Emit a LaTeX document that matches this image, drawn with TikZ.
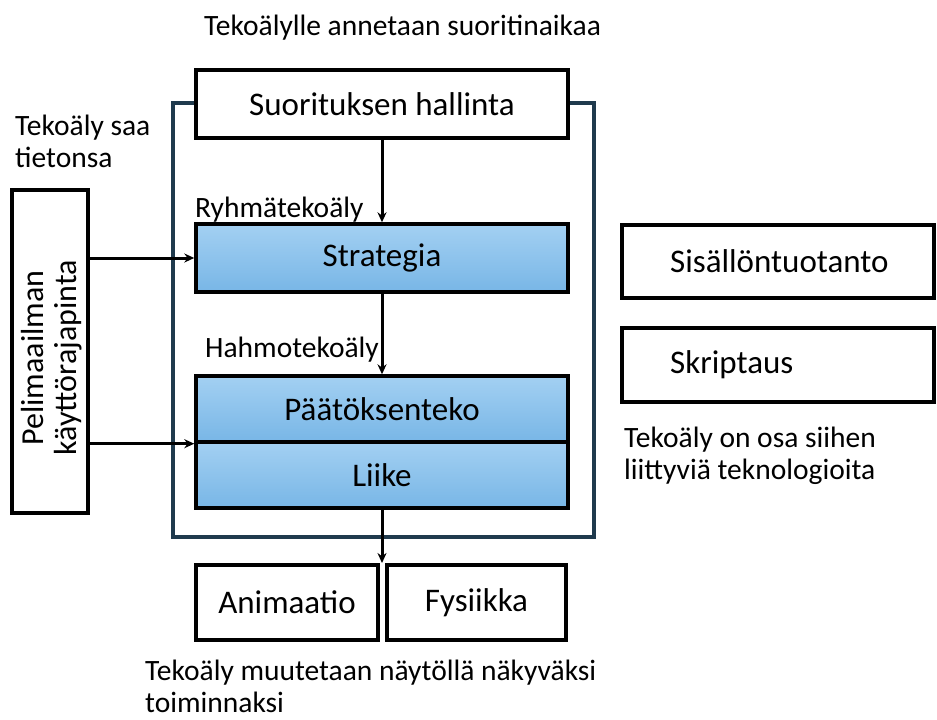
\documentclass[tikz,border=0pt]{standalone}
\usepackage{fontspec}
\setmainfont{Carlito}
\usetikzlibrary{arrows.meta}
\definecolor{frame}{HTML}{1F3A4D}
\definecolor{bluetop}{HTML}{A3D0F2}
\definecolor{bluebot}{HTML}{78B6E6}
\begin{document}
\begin{tikzpicture}[x=1pt,y=-1pt,
  box/.style={draw=black,line width=3.4pt,fill=white,rectangle,inner sep=0pt,font=\fontsize{33}{34}\selectfont},
  bluebox/.style={box,top color=bluetop,bottom color=bluebot},
  lbl/.style={inner sep=0pt,font=\fontsize{29.5}{32}\selectfont,anchor=west},
  arr/.style={line width=3pt,-{Stealth[length=10pt,width=9pt]}},
]
\useasboundingbox (0,0) rectangle (937,720);
% frame
\node[inner sep=0pt,minimum width=421pt,minimum height=434pt,draw=frame,line width=3.2pt] (frm) at (383.5,320) {};
% boxes
\node[box,minimum width=372pt,minimum height=68pt] (sh) at (382,104) {Suorituksen hallinta};
\node[bluebox,minimum width=372pt,minimum height=68pt] (st) at (382,258) {Strategia};
\node[bluebox,minimum width=372pt,minimum height=66pt] (pa) at (382,409) {Päätöksenteko};
\node[bluebox,minimum width=372pt,minimum height=66pt] (li) at (382,475) {Liike};
\node[box,minimum width=182pt,minimum height=75pt] (an) at (287,602.5) {Animaatio};
\node[box,minimum width=179pt,minimum height=75pt] (fy) at (476.5,602.5) {Fysiikka};
\node[box,minimum width=76pt,minimum height=323pt] (pe) at (50,351.5) {};
\node[inner sep=0pt,rotate=90,align=center,font=\fontsize{32}{33}\selectfont] (pet) at (52,358) {Pelimaailman\\käyttörajapinta};
\node[box,minimum width=312pt,minimum height=73pt] (si) at (778,261.5) {};
\node[lbl,font=\fontsize{33}{34}\selectfont] (sit) at (670,261.5) {Sisällöntuotanto};
\node[box,minimum width=312pt,minimum height=74pt] (sk) at (778,365) {};
\node[lbl,font=\fontsize{33}{34}\selectfont] (skt) at (670,365) {Skriptaus};
% labels
\node[lbl] (ry) at (195,210) {Ryhmätekoäly};
\node[lbl] (ha) at (205,350) {Hahmotekoäly};
\node[lbl] (top) at (204,28) {Tekoälylle annetaan suoritinaikaa};
\node[lbl,align=left] (tss) at (15,141.5) {Tekoäly saa\\tietonsa};
\node[lbl,align=left] (toa) at (624,455.5) {Tekoäly on osa siihen\\liittyviä teknologioita};
\node[lbl,align=left] (bot) at (145,686) {Tekoäly muutetaan näytöllä näkyväksi\\toiminnaksi};
% arrows
\coordinate (out) at (382,563);
\draw[arr] (sh.south) -- (st.north);
\draw[arr] (st.south) -- (pa.north);
\draw[arr] (li.south) -- (out);
\draw[arr] (pe.east |- st.west) -- (st.west);
\draw[arr] (pe.east |- pa.south west) -- (pa.south west);
\end{tikzpicture}
\end{document}
